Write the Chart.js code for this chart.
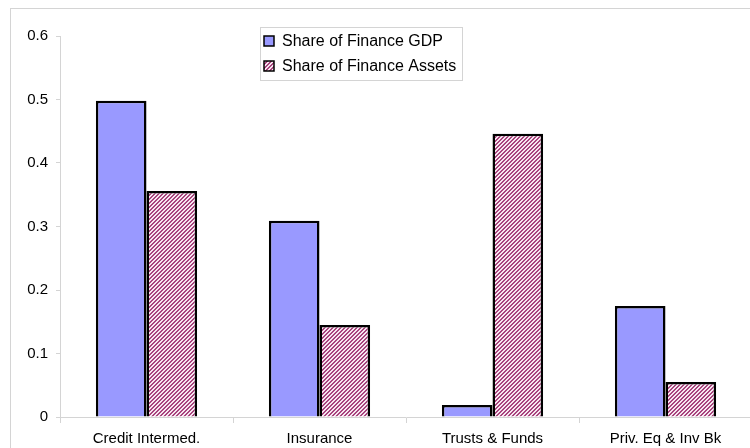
<!DOCTYPE html>
<html><head><meta charset="utf-8">
<script src="https://cdn.jsdelivr.net/npm/chart.js@4/dist/chart.umd.min.js"></script>
<style>
html,body{margin:0;padding:0;background:#fff;overflow:hidden;width:750px;height:448px;}
#wrap{position:absolute;left:0;top:0;width:762px;height:448px;}
#frame{position:absolute;left:10px;top:8px;width:800px;height:500px;border-left:1px solid #d4d4d4;border-top:1px solid #d4d4d4;pointer-events:none;}
</style></head>
<body>
<div id="frame"></div>
<div id="wrap"><canvas id="c" width="762" height="448"></canvas></div>
<script>
const categories = ["Credit Intermed.", "Insurance", "Trusts & Funds", "Priv. Eq & Inv Bk"];
const shareGDP = [0.498, 0.309, 0.019, 0.175];
const shareAssets = [0.356, 0.145, 0.446, 0.055];
const seriesNames = ["Share of Finance GDP", "Share of Finance Assets"];
const yTicks = [0, 0.1, 0.2, 0.3, 0.4, 0.5, 0.6];

function hatch() {
  const p = document.createElement('canvas');
  p.width = 4; p.height = 4;
  const g = p.getContext('2d');
  g.fillStyle = '#f7e6f0'; g.fillRect(0,0,4,4);
  g.fillStyle = '#a8447e';
  for (let i = 0; i < 4; i++) { g.fillRect(i, 3 - i, 1, 1); g.fillRect((i+1)%4, 3 - i, 1, 1); }
  return g.createPattern(p, 'repeat');
}
const ctx = document.getElementById('c').getContext('2d');
const hatchPat = hatch();
const FONT = "'Liberation Sans', Arial, sans-serif";

const legendPlugin = {
  id: 'boxLegend',
  afterDraw(chart) {
    const c = chart.ctx;
    const x = 260.5, y = 27.5, w = 202, h = 53;
    c.save();
    c.fillStyle = '#fff';
    c.fillRect(x, y, w, h);
    c.strokeStyle = '#d4d4d4'; c.lineWidth = 1;
    c.strokeRect(x, y, w, h);
    c.font = "16px " + FONT;
    c.textBaseline = 'middle';
    chart.data.datasets.forEach((ds, i) => {
      const ry = 41 + i * 25;
      c.fillStyle = ds.backgroundColor;
      c.fillRect(264, ry - 5, 10, 10);
      c.strokeStyle = '#000'; c.lineWidth = 1.5;
      c.strokeRect(264, ry - 5, 10, 10);
      c.fillStyle = '#000';
      c.fillText(ds.label, 282, ry + 1);
    });
    c.restore();
  }
};

new Chart(ctx, {
  type: 'bar',
  data: {
    labels: categories,
    datasets: [
      { label: seriesNames[0], data: shareGDP, backgroundColor: '#9999ff', borderColor: '#000', borderWidth: 2.5 },
      { label: seriesNames[1], data: shareAssets, backgroundColor: hatchPat, borderColor: '#000', borderWidth: 2.5 }
    ]
  },
  options: {
    responsive: false,
    animation: false,
    layout: { padding: { left: 0, top: 36, right: 10, bottom: 0 } },
    datasets: { bar: { categoryPercentage: 0.585, barPercentage: 1.0 } },
    plugins: { legend: { display: false }, tooltip: { enabled: false } },
    scales: {
      x: {
        grid: { display: true, drawOnChartArea: false, offset: true, tickLength: 6, color: '#d4d4d4' },
        border: { display: true, color: '#d4d4d4', width: 1 },
        ticks: { color: '#000', font: { family: FONT, size: 15 }, padding: 7, maxRotation: 0 },
        afterFit(s) { s.height = 31; }
      },
      y: {
        min: 0, max: 0.6,
        afterBuildTicks(s) { s.ticks = yTicks.map(v => ({ value: v })); },
        grid: { display: true, drawOnChartArea: false, tickLength: 4, color: '#d4d4d4' },
        border: { display: true, color: '#d4d4d4', width: 1 },
        ticks: { color: '#000', font: { family: FONT, size: 15 }, padding: 8,
                 callback: v => String(Math.round(v * 10) / 10) },
        afterFit(s) { s.width = 60; }
      }
    }
  },
  plugins: [legendPlugin]
});
</script>
</body></html>
